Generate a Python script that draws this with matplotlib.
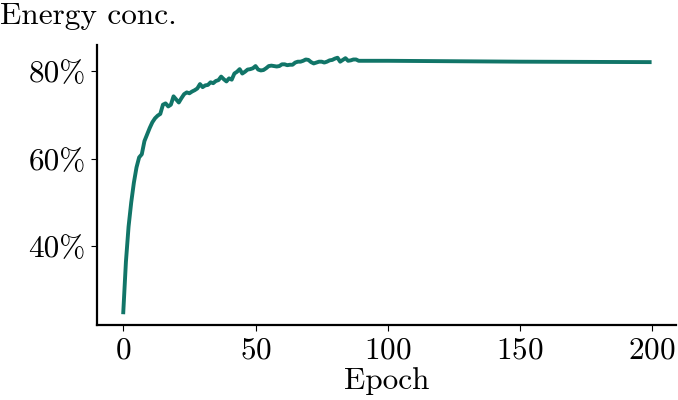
import matplotlib
matplotlib.use("Agg")
import matplotlib.pyplot as plt
from matplotlib.ticker import PercentFormatter

plt.rcParams["font.family"] = "serif"
plt.rcParams["font.serif"] = ["cmr10"]
plt.rcParams["mathtext.fontset"] = "cm"
plt.rcParams["axes.formatter.use_mathtext"] = True
plt.rcParams["axes.unicode_minus"] = False

# energy concentration per epoch (percent)
epochs_early = list(range(0, 91))
conc_early = [
    25.0, 36.5, 44.5, 50.0, 54.5, 58.0, 60.3, 61.0, 64.0, 65.5,
    67.0, 68.3, 69.2, 69.8, 70.2, 72.3, 72.6, 71.9, 72.3, 74.2,
    73.5, 72.8, 73.8, 74.7, 75.1, 74.9, 75.3, 75.6, 76.0, 77.0,
    76.3, 76.7, 76.8, 77.4, 77.2, 77.7, 77.9, 78.7, 78.1, 77.6,
    78.3, 78.0, 79.4, 79.8, 80.4, 79.4, 79.8, 80.3, 80.4, 80.6,
    81.1, 80.3, 80.1, 80.2, 80.6, 81.1, 81.2, 81.1, 81.0, 81.1,
    81.5, 81.5, 81.3, 81.4, 81.4, 81.9, 82.1, 82.1, 82.3, 82.6,
    82.5, 82.0, 81.7, 81.9, 82.1, 82.1, 81.9, 82.1, 82.4, 82.5,
    82.8, 83.0, 82.1, 82.5, 82.9, 82.3, 82.4, 82.6, 82.6, 82.3,
    82.3,
]
# after epoch 90 the curve is flat
epochs_late = [100, 125, 150, 175, 199]
conc_late = [82.3, 82.2, 82.1, 82.05, 82.0]

epochs = epochs_early + epochs_late
conc = conc_early + conc_late

fig = plt.figure(figsize=(6.78, 4.0), dpi=100)
ax = fig.add_axes([0.143, 0.1875, 0.854, 0.70])

ax.plot(epochs, conc, color="#117568", linewidth=2.8)

ax.spines["top"].set_visible(False)
ax.spines["right"].set_visible(False)
for s in ("left", "bottom"):
    ax.spines[s].set_linewidth(1.6)

ax.set_xticks([0, 50, 100, 150, 200])
ax.set_yticks([40, 60, 80])
ax.yaxis.set_major_formatter(PercentFormatter(xmax=100, decimals=0))
ax.tick_params(labelsize=22.5, length=4, width=0.8, pad=4)

ax.set_xlabel("Epoch", fontsize=22.5, labelpad=2)
fig.text(0.0, 0.96, "Energy conc.", fontsize=22.5, ha="left", va="center")

fig.savefig("out.png", dpi=100)
